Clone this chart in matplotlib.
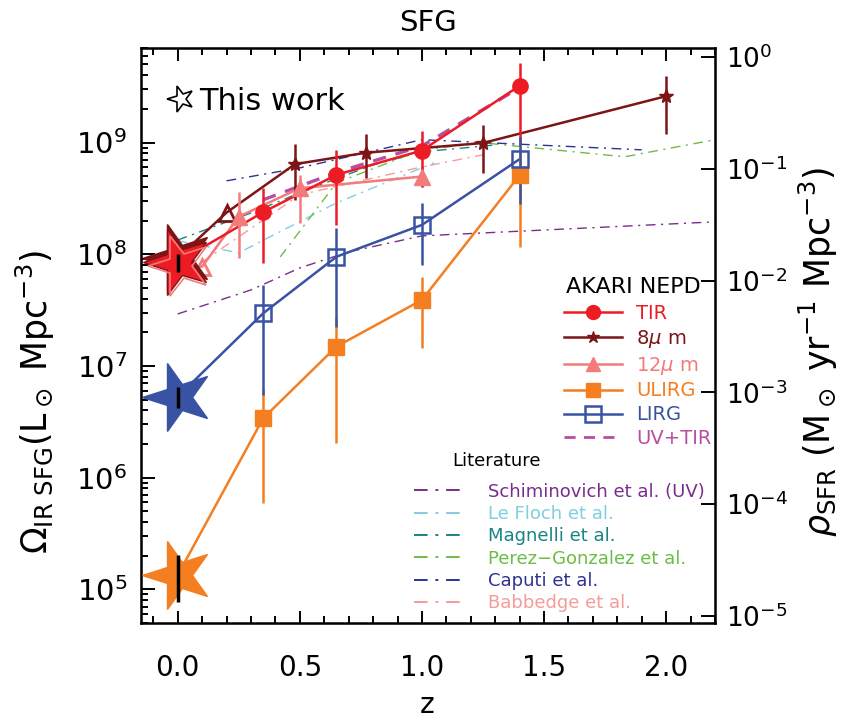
import matplotlib
matplotlib.use("Agg")
import matplotlib.pyplot as plt
from matplotlib.lines import Line2D
from matplotlib.markers import MarkerStyle
from matplotlib.transforms import Affine2D
from matplotlib.ticker import LogLocator, MultipleLocator, NullLocator, FormatStrFormatter
import numpy as np

# ----------------------------------- DATA ----------------------------------- #

# AKARI NEPD, Omega_IR (L_sun Mpc^-3)
tir_z = [0.35, 0.65, 1.0, 1.4]
tir_val = [2.38e8, 5.14e8, 8.48e8, 3.22e9]
tir_lo = [8.4e7, 1.83e8, 4.0e8, 9.5e8]
tir_hi = [3.93e8, 8.5e8, 1.27e9, 5.2e9]

mu8_z = [0.2, 0.48, 0.77, 1.25, 2.0]
mu8_val = [2.36e8, 6.4e8, 8.1e8, 9.9e8, 2.6e9]
mu8_lo = [2.36e8, 3.07e8, 4.83e8, 5.35e8, 1.2e9]
mu8_hi = [2.36e8, 9.7e8, 1.2e9, 1.44e9, 3.96e9]

mu12_z = [0.1, 0.25, 0.5, 1.0]
mu12_val = [7.74e7, 2.17e8, 3.9e8, 4.96e8]
mu12_lo = [7.74e7, 9.2e7, 1.9e8, 4.0e8]
mu12_hi = [7.74e7, 3.64e8, 5.14e8, 6.1e8]

ulirg_z = [0.35, 0.65, 1.0, 1.4]
ulirg_val = [3.4e6, 1.49e7, 3.9e7, 5.1e8]
ulirg_lo = [5.9e5, 2.05e6, 1.44e7, 1.17e8]
ulirg_hi = [6.2e6, 2.76e7, 6.3e7, 8.97e8]

lirg_z = [0.35, 0.65, 1.0, 1.4]
lirg_val = [2.96e7, 9.5e7, 1.83e8, 7.1e8]
lirg_lo = [5.5e6, 2.24e7, 8.0e7, 2.83e8]
lirg_hi = [5.3e7, 1.71e8, 2.86e8, 1.13e9]

uvtir_z = [0.35, 0.65, 1.0, 1.4]
uvtir_val = [3.07e8, 5.4e8, 9.3e8, 3.1e9]

# This work (z = 0)
local_z = 0.0
local_tir = 8.5e7
local_tir_err = [6.95e7, 1.0e8]
local_8 = 9.3e7
local_12 = 7.85e7
local_lirg = 5.3e6
local_lirg_err = [4.2e6, 6.5e6]
local_ulirg = 1.34e5
local_ulirg_err = [7.7e4, 2.02e5]

# Literature
schim_z = [0.0, 0.3, 0.5, 0.7, 1.0, 2.2]
schim_val = [2.92e7, 4.79e7, 7.54e7, 1.05e8, 1.46e8, 1.95e8]
lefloch_z = [0.0, 0.25, 0.65, 1.05]
lefloch_val = [1.32e8, 1.03e8, 2.88e8, 6.58e8]
magnelli_z = [0.0, 0.3, 0.55, 0.8, 1.0, 1.3]
magnelli_val = [1.34e8, 2.34e8, 3.93e8, 6.3e8, 8.26e8, 9.5e8]
perez_z = [0.42, 0.65, 1.0, 1.25, 1.83, 2.2]
perez_val = [9.46e7, 4.36e8, 8.6e8, 9.94e8, 7.45e8, 1.06e9]
caputi_z = [0.2, 0.5, 1.0, 1.9]
caputi_val = [4.54e8, 5.93e8, 1.06e9, 8.6e8]
babbedge_z = [0.1, 0.5, 1.0, 1.25]
babbedge_val = [8.53e7, 3.4e8, 6.05e8, 7.76e8]

L_TO_SFR = 1.72e-10

# ---------------------------------- STYLE ----------------------------------- #

C_TIR = "#ed1c24"
C_8 = "#7d1416"
C_12 = "#f37b7b"
C_ULIRG = "#f47e20"
C_LIRG = "#3953a4"
C_UVTIR = "#b84ea0"

LIT = [
    ("Schiminovich et al. (UV)", "#7a2d8c", schim_z, schim_val),
    ("Le Floch et al.", "#7ecfe0", lefloch_z, lefloch_val),
    ("Magnelli et al.", "#178585", magnelli_z, magnelli_val),
    ("Perez\u2212Gonzalez et al.", "#6cbd45", perez_z, perez_val),
    ("Caputi et al.", "#2e3191", caputi_z, caputi_val),
    ("Babbedge et al.", "#f59b9b", babbedge_z, babbedge_val),
]
DASHDOT = (0, (7, 4, 1.5, 4))

plt.rcParams["font.family"] = ["DejaVu Sans"]
plt.rcParams["mathtext.fontset"] = "dejavusans"

BIG_STAR = MarkerStyle("*", transform=Affine2D().rotate_deg(90))


def errbars(ax, z, lo, hi, color):
    ax.vlines(z, lo, hi, color=color, lw=1.8, zorder=4)


# ----------------------------------- PLOT ----------------------------------- #

fig = plt.figure(figsize=(8.45, 7.18), dpi=100)
ax = fig.add_axes([0.1669, 0.1323, 0.6793, 0.8007])

for name, col, z, v in LIT:
    ax.plot(z, v, color=col, lw=1.0, ls=DASHDOT, zorder=2)

ax.plot(uvtir_z, uvtir_val, color=C_UVTIR, lw=2.4, ls=(0, (4, 3)), zorder=3)

# lines from local point
ax.plot([local_z] + mu8_z, [local_8] + mu8_val, color=C_8, lw=1.8, zorder=3)
ax.plot([local_z] + mu12_z, [local_12] + mu12_val, color=C_12, lw=1.8, zorder=3)
ax.plot([local_z] + tir_z, [local_tir] + tir_val, color=C_TIR, lw=1.8, zorder=3)
ax.plot([local_z] + ulirg_z, [local_ulirg] + ulirg_val, color=C_ULIRG, lw=1.8, zorder=3)
ax.plot([local_z] + lirg_z, [local_lirg] + lirg_val, color=C_LIRG, lw=1.8, zorder=3)

errbars(ax, mu8_z[1:], mu8_lo[1:], mu8_hi[1:], C_8)
errbars(ax, mu12_z[1:], mu12_lo[1:], mu12_hi[1:], C_12)
errbars(ax, tir_z, tir_lo, tir_hi, C_TIR)
errbars(ax, ulirg_z, ulirg_lo, ulirg_hi, C_ULIRG)
errbars(ax, lirg_z, lirg_lo, lirg_hi, C_LIRG)

ax.plot(mu8_z[1:], mu8_val[1:], ls="none", marker="*", ms=10, color=C_8, zorder=5)
ax.plot(mu8_z[:1], mu8_val[:1], ls="none", marker="^", ms=12, mfc="none", mec=C_8, mew=2, zorder=5)
ax.plot(mu12_z[1:], mu12_val[1:], ls="none", marker="^", ms=11, color=C_12, zorder=5)
ax.plot(mu12_z[:1], mu12_val[:1], ls="none", marker="^", ms=12, mfc="none", mec=C_12, mew=2, zorder=5)
ax.plot(tir_z, tir_val, ls="none", marker="o", ms=11, color=C_TIR, zorder=5)
ax.plot(ulirg_z, ulirg_val, ls="none", marker="s", ms=11, color=C_ULIRG, zorder=5)
ax.plot(lirg_z, lirg_val, ls="none", marker="s", ms=12, mfc="none", mec=C_LIRG, mew=1.8, zorder=5)

# big stars at z = 0
ax.plot(local_z, local_8, ls="none", marker=BIG_STAR, ms=52, mfc=C_8, mec=C_8, zorder=6)
ax.plot(local_z, local_tir, ls="none", marker=BIG_STAR, ms=50, mfc=C_TIR, mec=C_8, mew=1, zorder=6)
ax.plot(local_z + 0.01, local_12, ls="none", marker=BIG_STAR, ms=46, mfc="none", mec=C_12, mew=1.2, zorder=6)
ax.plot(local_z, local_lirg, ls="none", marker=BIG_STAR, ms=52, color=C_LIRG, zorder=6)
ax.plot(local_z, local_ulirg, ls="none", marker=BIG_STAR, ms=52, color=C_ULIRG, zorder=6)
for lo_hi in (local_tir_err, local_lirg_err, local_ulirg_err):
    ax.vlines(local_z, lo_hi[0], lo_hi[1], color="black", lw=2.5, zorder=7)

# ---------------------------------- AXES ------------------------------------ #

ax.set_yscale("log")
ax.set_xlim(-0.15, 2.2)
ax.set_ylim(5e4, 7e9)
ax.xaxis.set_major_locator(MultipleLocator(0.5))
ax.xaxis.set_minor_locator(MultipleLocator(0.1))
ax.xaxis.set_major_formatter(FormatStrFormatter("%.1f"))
ax.yaxis.set_major_locator(LogLocator(base=10, numticks=20))
ax.yaxis.set_minor_locator(LogLocator(base=10, subs=np.arange(2, 10), numticks=20))
ax.tick_params(axis="both", which="both", direction="in", width=1.4)
ax.tick_params(axis="x", which="both", top=True, bottom=True)
ax.tick_params(axis="x", which="major", length=9, labelsize=20, pad=22)
ax.tick_params(axis="x", which="minor", length=5)
ax.tick_params(axis="y", which="major", length=10, labelsize=21, pad=10)
ax.tick_params(axis="y", which="minor", length=5)
for sp in ax.spines.values():
    sp.set_linewidth(1.8)

ax2 = ax.twinx()
ax2.set_yscale("log")
ax2.set_ylim(5e4 * L_TO_SFR, 7e9 * L_TO_SFR)
ax2.yaxis.set_major_locator(LogLocator(base=10, numticks=20))
ax2.yaxis.set_minor_locator(NullLocator())
ax2.tick_params(axis="y", which="major", direction="in", length=10, width=1.4, labelsize=19, pad=8)

ax.set_title("SFG", fontsize=21, pad=12)
fig.text(0.506, 0.018, "z", fontsize=20, ha="center", va="center")
fig.text(0.042, 0.44, r"$\Omega_{\rm IR\ SFG}$(L$_\odot$ Mpc$^{-3}$)",
         rotation=90, fontsize=25, ha="center", va="center")
fig.text(0.968, 0.51, r"$\rho_{\rm SFR}$ (M$_\odot$ yr$^{-1}$ Mpc$^{-3}$)",
         rotation=90, fontsize=25, ha="center", va="center")

# --------------------------------- LEGENDS ---------------------------------- #

tw = ax.legend(handles=[Line2D([], [], ls="none", marker=BIG_STAR, ms=20, mfc="none", mec="black", mew=1.2)],
               labels=["This work"], loc="center left", bbox_to_anchor=(-0.01, 0.907),
               frameon=False, fontsize=22, handletextpad=0.0, handlelength=1.2)
ax.add_artist(tw)

ax.text(0.975, 0.585, "AKARI NEPD", transform=ax.transAxes, fontsize=16, ha="right", va="center")
akari = [
    ("TIR", Line2D([], [], color=C_TIR, lw=1.8, marker="o", ms=10)),
    ("8$\\mu$ m", Line2D([], [], color=C_8, lw=1.8, marker="*", ms=9)),
    ("12$\\mu$ m", Line2D([], [], color=C_12, lw=1.8, marker="^", ms=10)),
    ("ULIRG", Line2D([], [], color=C_ULIRG, lw=1.8, marker="s", ms=10)),
    ("LIRG", Line2D([], [], color=C_LIRG, lw=1.8, marker="s", ms=11, mfc="none", mew=1.8)),
    ("UV+TIR", Line2D([], [], color=C_UVTIR, lw=2.0, ls=(0, (4, 3)))),
]
leg1 = ax.legend(handles=[h for _, h in akari], labels=[l for l, _ in akari],
                 loc="upper left", bbox_to_anchor=(0.72, 0.572), frameon=False,
                 fontsize=14, handlelength=3.0, handletextpad=0.7, labelspacing=0.25,
                 borderpad=0, labelcolor=[C_TIR, C_8, C_12, C_ULIRG, C_LIRG, C_UVTIR])
ax.add_artist(leg1)

ax.text(0.543, 0.281, "Literature", transform=ax.transAxes, fontsize=13, ha="left", va="center")
leg2 = ax.legend(handles=[Line2D([], [], color=c, lw=1.4, ls=DASHDOT) for _, c, _, _ in LIT],
                 labels=[n for n, _, _, _ in LIT], loc="upper left",
                 bbox_to_anchor=(0.46, 0.26), frameon=False, fontsize=13,
                 handlelength=2.9, handletextpad=1.2, labelspacing=0.24, borderpad=0,
                 labelcolor=[c for _, c, _, _ in LIT])

fig.savefig("out.png", dpi=100)
